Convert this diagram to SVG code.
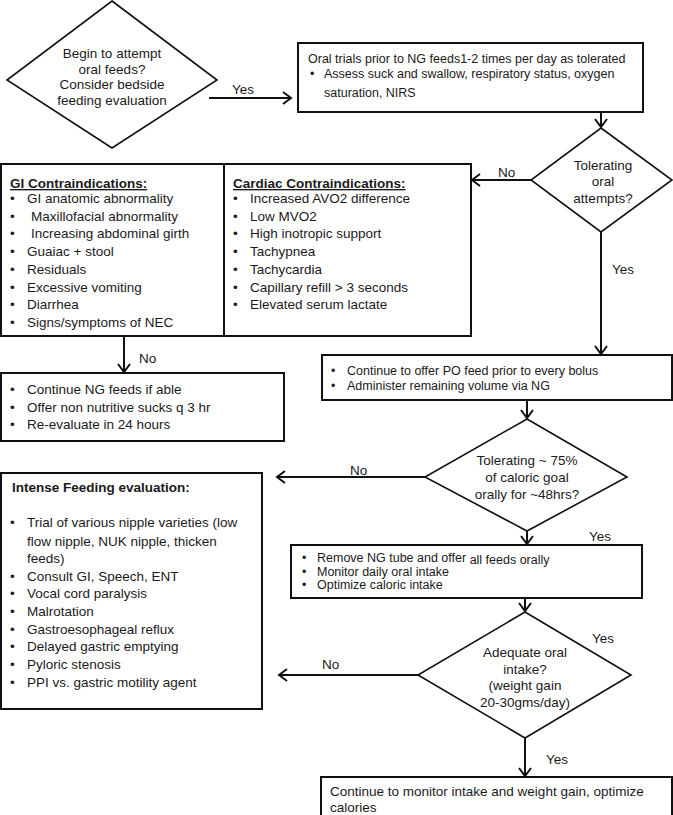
<svg xmlns="http://www.w3.org/2000/svg" width="673" height="815" viewBox="0 0 673 815">
<style>
text{font-family:"Liberation Sans",Arial,sans-serif;fill:#1a1a1a}
.s{font-size:12.5px}
.m{font-size:13.5px}
.c{text-anchor:middle}
.b{font-weight:bold}
.u{text-decoration:underline}
.box{fill:#fff;stroke:#111;stroke-width:2}
.dia{fill:#fff;stroke:#111;stroke-width:1.6}
.ln{stroke:#111;stroke-width:2;fill:none;marker-end:url(#ah)}
</style>
<defs>
<marker id="ah" markerUnits="userSpaceOnUse" viewBox="0 0 12 14" markerWidth="12" markerHeight="14" refX="10" refY="7" orient="auto">
<path d="M2,1 L10,7 L2,13" fill="none" stroke="#111" stroke-width="2"/>
</marker>
</defs>
<rect width="673" height="815" fill="#fff"/>

<g id="connectors">
<line class="ln" x1="209" y1="98" x2="291" y2="98"/>
<line class="ln" x1="601" y1="112" x2="601" y2="127"/>
<line class="ln" x1="531" y1="180" x2="472" y2="180"/>
<line class="ln" x1="601" y1="232" x2="601" y2="354"/>
<line class="ln" x1="124" y1="336" x2="124" y2="372"/>
<line class="ln" x1="527" y1="400" x2="527" y2="418"/>
<line class="ln" x1="425" y1="477" x2="277" y2="477"/>
<line class="ln" x1="527" y1="531" x2="527" y2="544"/>
<line class="ln" x1="525" y1="598" x2="525" y2="611"/>
<line class="ln" x1="418" y1="675" x2="279" y2="675"/>
<line class="ln" x1="525" y1="738" x2="525" y2="776"/>
<text class="m" x="232" y="94">Yes</text>
<text class="m" x="498" y="177">No</text>
<text class="m" x="612" y="274">Yes</text>
<text class="m" x="139" y="363">No</text>
<text class="m" x="350" y="475">No</text>
<text class="m" x="589" y="541">Yes</text>
<text class="m" x="592" y="643">Yes</text>
<text class="m" x="322" y="669">No</text>
<text class="m" x="546" y="764">Yes</text>
</g>

<g id="d1">
<polygon class="dia" points="112,1 217,80 112,148 7,80"/>
<text class="m c" x="112" y="58">Begin to attempt</text>
<text class="m c" x="112" y="74">oral feeds?</text>
<text class="m c" x="112" y="89">Consider bedside</text>
<text class="m c" x="112" y="105">feeding evaluation</text>
</g>

<g id="oral-trials">
<rect class="box" x="298" y="43" width="345" height="69"/>
<text class="s" x="308" y="62.5">Oral trials prior to NG feeds1-2 times per day as tolerated</text>
<text class="s" x="310" y="78">•</text>
<text class="s" x="324" y="78">Assess suck and swallow, respiratory status, oxygen</text>
<text class="s" x="324" y="96.5">saturation, NIRS</text>
</g>

<g id="d2">
<polygon class="dia" points="601,128 672,180 601,232 531,180"/>
<text class="m c" x="603" y="169.5">Tolerating</text>
<text class="m c" x="603" y="186">oral</text>
<text class="m c" x="603" y="202.5">attempts?</text>
</g>

<g id="contraindications">
<rect class="box" x="1" y="164" width="470" height="172"/>
<line x1="224" y1="164" x2="224" y2="336" stroke="#111" stroke-width="2"/>
<text class="m b u" x="10" y="188">GI Contraindications:</text>
<g class="m">
<text x="10" y="203">•</text><text x="27" y="203">GI anatomic abnormality</text>
<text x="10" y="220.5">•</text><text x="31" y="220.5">Maxillofacial abnormality</text>
<text x="10" y="238">•</text><text x="31" y="238">Increasing abdominal girth</text>
<text x="10" y="256">•</text><text x="27" y="256">Guaiac + stool</text>
<text x="10" y="274">•</text><text x="27" y="274">Residuals</text>
<text x="10" y="292">•</text><text x="27" y="292">Excessive vomiting</text>
<text x="10" y="309">•</text><text x="27" y="309">Diarrhea</text>
<text x="10" y="327">•</text><text x="27" y="327">Signs/symptoms of NEC</text>
</g>
<text class="m b u" x="233" y="188">Cardiac Contraindications:</text>
<g class="m">
<text x="233" y="203">•</text><text x="250" y="203">Increased AVO2 difference</text>
<text x="233" y="220.5">•</text><text x="250" y="220.5">Low MVO2</text>
<text x="233" y="238">•</text><text x="250" y="238">High inotropic support</text>
<text x="233" y="256">•</text><text x="250" y="256">Tachypnea</text>
<text x="233" y="274">•</text><text x="250" y="274">Tachycardia</text>
<text x="233" y="292">•</text><text x="250" y="292">Capillary refill &gt; 3 seconds</text>
<text x="233" y="309">•</text><text x="250" y="309">Elevated serum lactate</text>
</g>
</g>

<g id="continue-ng">
<rect class="box" x="1" y="373" width="283" height="68"/>
<g class="m">
<text x="10" y="394">•</text><text x="27" y="394">Continue NG feeds if able</text>
<text x="10" y="412">•</text><text x="27" y="412">Offer non nutritive sucks q 3 hr</text>
<text x="10" y="428.5">•</text><text x="27" y="428.5">Re-evaluate in 24 hours</text>
</g>
</g>

<g id="po-feed">
<rect class="box" x="322" y="355" width="350" height="45"/>
<g class="s">
<text x="331" y="374.5">•</text><text x="347" y="374.5">Continue to offer PO feed prior to every bolus</text>
<text x="331" y="389.5">•</text><text x="347" y="389.5">Administer remaining volume via NG</text>
</g>
</g>

<g id="d3">
<polygon class="dia" points="527,419 627,477 527,531 425,477"/>
<text class="m c" x="527" y="464.5">Tolerating ~ 75%</text>
<text class="m c" x="527" y="481.5">of caloric goal</text>
<text class="m c" x="527" y="498.5">orally for ~48hrs?</text>
</g>

<g id="intense">
<rect class="box" x="1" y="473" width="261" height="236"/>
<text class="m b" x="12" y="492">Intense Feeding evaluation:</text>
<g class="m">
<text x="10" y="527">•</text><text x="27" y="527">Trial of various nipple varieties (low</text>
<text x="27" y="545.5">flow nipple, NUK nipple, thicken</text>
<text x="27" y="562.5">feeds)</text>
<text x="10" y="581">•</text><text x="27" y="581">Consult GI, Speech, ENT</text>
<text x="10" y="598">•</text><text x="27" y="598">Vocal cord paralysis</text>
<text x="10" y="615.5">•</text><text x="27" y="615.5">Malrotation</text>
<text x="10" y="633.5">•</text><text x="27" y="633.5">Gastroesophageal reflux</text>
<text x="10" y="651">•</text><text x="27" y="651">Delayed gastric emptying</text>
<text x="10" y="669">•</text><text x="27" y="669">Pyloric stenosis</text>
<text x="10" y="686.5">•</text><text x="27" y="686.5">PPI vs. gastric motility agent</text>
</g>
</g>

<g id="remove-ng">
<rect class="box" x="291" y="545" width="351" height="53"/>
<g class="s">
<text x="302" y="562">•</text><text x="317" y="562">Remove NG tube and offer <tspan dy="1.5">all feeds orally</tspan></text>
<text x="302" y="575.5">•</text><text x="317" y="575.5">Monitor daily oral intake</text>
<text x="302" y="588.5">•</text><text x="317" y="588.5">Optimize caloric intake</text>
</g>
</g>

<g id="d4">
<polygon class="dia" points="525,612 631,675 525,738 418,675"/>
<text class="m c" x="525" y="656.5">Adequate oral</text>
<text class="m c" x="525" y="674">intake?</text>
<text class="m c" x="525" y="690">(weight gain</text>
<text class="m c" x="525" y="707">20-30gms/day)</text>
</g>

<g id="final">
<rect class="box" x="321" y="777" width="351" height="42"/>
<text class="m" x="330" y="796">Continue to monitor intake and weight gain, optimize</text>
<text class="m" x="330" y="812">calories</text>
</g>
</svg>
